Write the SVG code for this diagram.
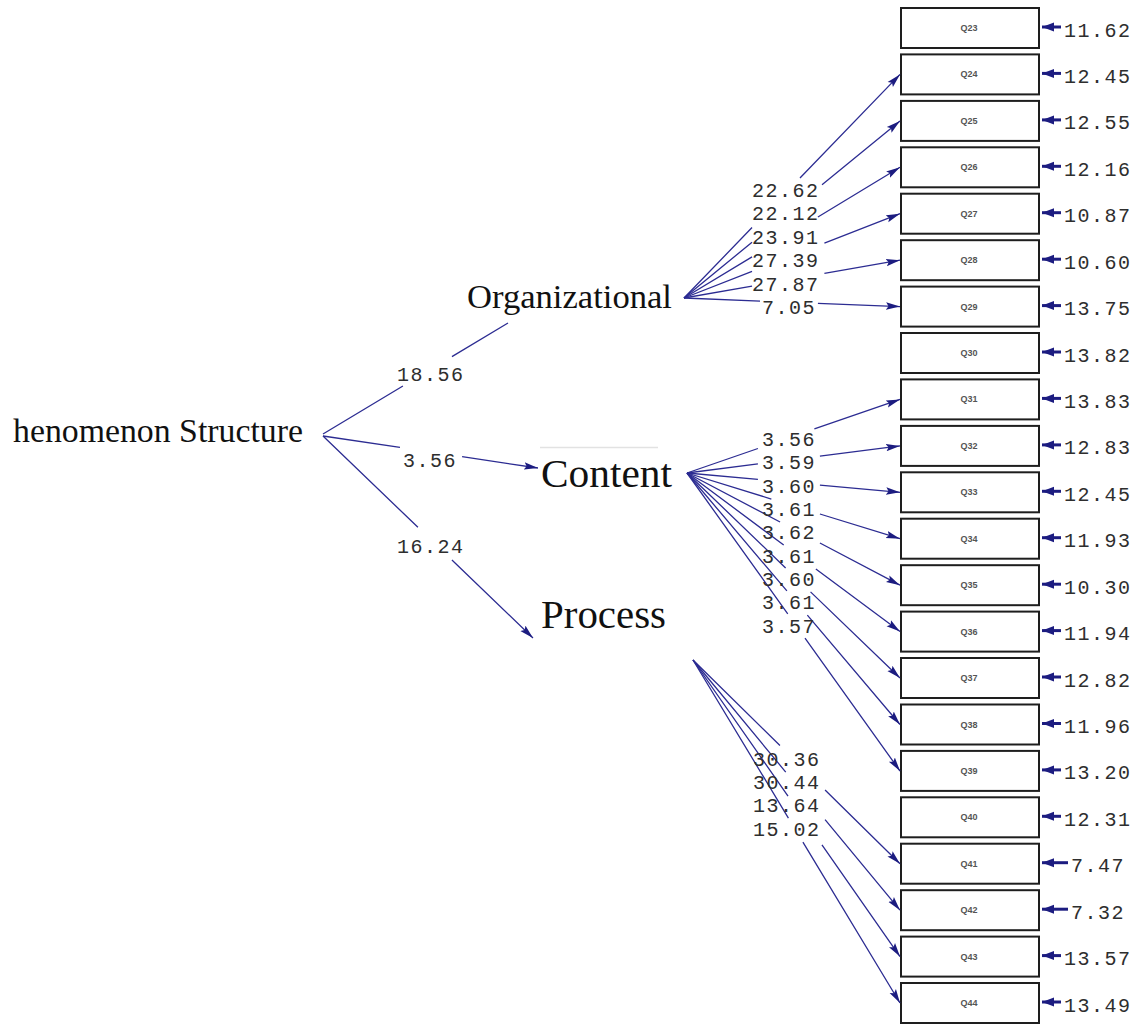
<svg xmlns="http://www.w3.org/2000/svg" width="1137" height="1025" viewBox="0 0 1137 1025">
  <style>
    .latent { font-family: "Liberation Serif", "Times New Roman", serif; fill: #111; }
    .box { fill: #fff; stroke: #1e1e1e; stroke-width: 2; }
    .boxlbl { font-family: "Liberation Sans", Arial, sans-serif; font-size: 9px; font-weight: bold; fill: #555; text-anchor: middle; }
    .path { fill: none; stroke: #2c2c92; stroke-width: 1.3; marker-end: url(#ah); }
    .plain { fill: none; stroke: #2c2c92; stroke-width: 1.3; }
    .err { fill: none; stroke: #1c1c80; stroke-width: 3; marker-end: url(#eh); }
    .num { font-family: "Liberation Mono", "Courier New", monospace; font-size: 20px; letter-spacing: 1.5px; fill: #2e2e2e; }
  </style>
  <defs>
    <marker id="ah" markerUnits="userSpaceOnUse" markerWidth="15" markerHeight="9" refX="14" refY="4.5" orient="auto">
      <path d="M0,0.8 L14,4.5 L0,8.2 L2.5,4.5 z" fill="#1c1c80"/>
    </marker>
    <marker id="eh" markerUnits="userSpaceOnUse" markerWidth="13" markerHeight="10" refX="12" refY="5" orient="auto">
      <path d="M0,0.5 L12,5 L0,9.5 z" fill="#1c1c80"/>
    </marker>
  </defs>

  <rect width="1137" height="1025" fill="#fff"/>

  <!-- latent variables -->
  <g id="structure">
    <text class="latent" x="13" y="442" font-size="34" textLength="290" lengthAdjust="spacingAndGlyphs">henomenon Structure</text>
  </g>
  <g id="organizational">
    <text class="latent" x="467" y="308" font-size="33" textLength="205" lengthAdjust="spacingAndGlyphs">Organizational</text>
  </g>
  <g id="content">
    <line x1="540" y1="447.5" x2="658" y2="447.5" stroke="#e2e2e2" stroke-width="1.5"/>
    <text class="latent" x="541" y="487" font-size="40" textLength="131" lengthAdjust="spacingAndGlyphs">Content</text>
  </g>
  <g id="process">
    <text class="latent" x="541" y="628" font-size="40" textLength="125" lengthAdjust="spacingAndGlyphs">Process</text>
  </g>

  <!-- observed indicators -->
  <g id="q23"><rect class="box" x="901" y="8" width="138" height="40"/><text class="boxlbl" x="969" y="31">Q23</text></g>
  <g id="q24"><rect class="box" x="901" y="54.4" width="138" height="40"/><text class="boxlbl" x="969" y="77.4">Q24</text></g>
  <g id="q25"><rect class="box" x="901" y="100.9" width="138" height="40"/><text class="boxlbl" x="969" y="123.9">Q25</text></g>
  <g id="q26"><rect class="box" x="901" y="147.3" width="138" height="40"/><text class="boxlbl" x="969" y="170.3">Q26</text></g>
  <g id="q27"><rect class="box" x="901" y="193.7" width="138" height="40"/><text class="boxlbl" x="969" y="216.7">Q27</text></g>
  <g id="q28"><rect class="box" x="901" y="240.2" width="138" height="40"/><text class="boxlbl" x="969" y="263.2">Q28</text></g>
  <g id="q29"><rect class="box" x="901" y="286.6" width="138" height="40"/><text class="boxlbl" x="969" y="309.6">Q29</text></g>
  <g id="q30"><rect class="box" x="901" y="333" width="138" height="40"/><text class="boxlbl" x="969" y="356">Q30</text></g>
  <g id="q31"><rect class="box" x="901" y="379.4" width="138" height="40"/><text class="boxlbl" x="969" y="402.4">Q31</text></g>
  <g id="q32"><rect class="box" x="901" y="425.9" width="138" height="40"/><text class="boxlbl" x="969" y="448.9">Q32</text></g>
  <g id="q33"><rect class="box" x="901" y="472.3" width="138" height="40"/><text class="boxlbl" x="969" y="495.3">Q33</text></g>
  <g id="q34"><rect class="box" x="901" y="518.7" width="138" height="40"/><text class="boxlbl" x="969" y="541.7">Q34</text></g>
  <g id="q35"><rect class="box" x="901" y="565.2" width="138" height="40"/><text class="boxlbl" x="969" y="588.2">Q35</text></g>
  <g id="q36"><rect class="box" x="901" y="611.6" width="138" height="40"/><text class="boxlbl" x="969" y="634.6">Q36</text></g>
  <g id="q37"><rect class="box" x="901" y="658" width="138" height="40"/><text class="boxlbl" x="969" y="681">Q37</text></g>
  <g id="q38"><rect class="box" x="901" y="704.5" width="138" height="40"/><text class="boxlbl" x="969" y="727.5">Q38</text></g>
  <g id="q39"><rect class="box" x="901" y="750.9" width="138" height="40"/><text class="boxlbl" x="969" y="773.9">Q39</text></g>
  <g id="q40"><rect class="box" x="901" y="797.3" width="138" height="40"/><text class="boxlbl" x="969" y="820.3">Q40</text></g>
  <g id="q41"><rect class="box" x="901" y="843.7" width="138" height="40"/><text class="boxlbl" x="969" y="866.7">Q41</text></g>
  <g id="q42"><rect class="box" x="901" y="890.2" width="138" height="40"/><text class="boxlbl" x="969" y="913.2">Q42</text></g>
  <g id="q43"><rect class="box" x="901" y="936.6" width="138" height="40"/><text class="boxlbl" x="969" y="959.6">Q43</text></g>
  <g id="q44"><rect class="box" x="901" y="983" width="138" height="40"/><text class="boxlbl" x="969" y="1006">Q44</text></g>

  <!-- connectors: each path is broken where its coefficient is printed -->
  <g id="connectors">
    <!-- second-order paths -->
    <path class="plain" d="M323,434 L508,323" pathLength="100" stroke-dasharray="43.2 26.5 100"/>
    <path class="path" d="M323,436 L538,468" pathLength="100" stroke-dasharray="35.8 28.9 100"/>
    <path class="path" d="M323,436 L533,638" pathLength="100" stroke-dasharray="45.2 16.2 100"/>

    <!-- Organizational loadings -->
    <path class="path" d="M684,298 L900,74.4" pathLength="100" stroke-dasharray="31.5 22.2 100"/>
    <path class="path" d="M684,298 L900,120.9" pathLength="100" stroke-dasharray="31.5 32.4 100"/>
    <path class="path" d="M684,298 L900,167.3" pathLength="100" stroke-dasharray="31.5 30.5 100"/>
    <path class="path" d="M684,298 L900,213.7" pathLength="100" stroke-dasharray="31.5 33.5 100"/>
    <path class="path" d="M684,298 L900,260.2" pathLength="100" stroke-dasharray="31.5 33.5 100"/>
    <path class="path" d="M684,298 L900,306.6" pathLength="100" stroke-dasharray="35.2 26.8 100"/>

    <!-- Content loadings -->
    <path class="path" d="M687,473 L900,399.4" pathLength="100" stroke-dasharray="33.3 26.5 100"/>
    <path class="path" d="M687,473 L900,445.9" pathLength="100" stroke-dasharray="33.3 29.1 100"/>
    <path class="path" d="M687,473 L900,492.3" pathLength="100" stroke-dasharray="33.3 29.1 100"/>
    <path class="path" d="M687,473 L900,538.7" pathLength="100" stroke-dasharray="39.6 22.8 100"/>
    <path class="path" d="M687,473 L900,585.2" pathLength="100" stroke-dasharray="43.7 18.7 100"/>
    <path class="path" d="M687,473 L900,631.6" pathLength="100" stroke-dasharray="45.4 15.1 100"/>
    <path class="path" d="M687,473 L900,678" pathLength="100" stroke-dasharray="46.3 11.7 100"/>
    <path class="path" d="M687,473 L900,724.5" pathLength="100" stroke-dasharray="46.9 9.6 100"/>
    <path class="path" d="M687,473 L900,771" pathLength="100" stroke-dasharray="47.3 8.1 100"/>

    <!-- Process loadings -->
    <path class="path" d="M693,660 L900,863.7" pathLength="100" stroke-dasharray="42 21.8 100"/>
    <path class="path" d="M693,660 L900,910.2" pathLength="100" stroke-dasharray="44.8 19 100"/>
    <path class="path" d="M693,660 L900,956.6" pathLength="100" stroke-dasharray="45.9 16.4 100"/>
    <path class="path" d="M693,660 L900,1003" pathLength="100" stroke-dasharray="46.1 7 100"/>

    <!-- error terms -->
    <path class="err" d="M1061,27 H1042"/>
    <path class="err" d="M1061,73.4 H1042"/>
    <path class="err" d="M1061,119.9 H1042"/>
    <path class="err" d="M1061,166.3 H1042"/>
    <path class="err" d="M1061,212.7 H1042"/>
    <path class="err" d="M1061,259.2 H1042"/>
    <path class="err" d="M1061,305.6 H1042"/>
    <path class="err" d="M1061,352 H1042"/>
    <path class="err" d="M1061,398.4 H1042"/>
    <path class="err" d="M1061,444.9 H1042"/>
    <path class="err" d="M1061,491.3 H1042"/>
    <path class="err" d="M1061,537.7 H1042"/>
    <path class="err" d="M1061,584.2 H1042"/>
    <path class="err" d="M1061,630.6 H1042"/>
    <path class="err" d="M1061,677 H1042"/>
    <path class="err" d="M1061,723.5 H1042"/>
    <path class="err" d="M1061,769.9 H1042"/>
    <path class="err" d="M1061,816.3 H1042"/>
    <path class="err" d="M1068,862.7 H1042"/>
    <path class="err" d="M1068,909.2 H1042"/>
    <path class="err" d="M1061,955.6 H1042"/>
    <path class="err" d="M1061,1002 H1042"/>
  </g>

  <!-- coefficients -->
  <g id="coefficients" class="num">
    <text x="397" y="381">18.56</text>
    <text x="403" y="467">3.56</text>
    <text x="397" y="553">16.24</text>

    <text x="752" y="197">22.62</text>
    <text x="752" y="220">22.12</text>
    <text x="752" y="244">23.91</text>
    <text x="752" y="267">27.39</text>
    <text x="752" y="291">27.87</text>
    <text x="762" y="314">7.05</text>

    <text x="762" y="446">3.56</text>
    <text x="762" y="469.3">3.59</text>
    <text x="762" y="492.6">3.60</text>
    <text x="762" y="516">3.61</text>
    <text x="762" y="539.3">3.62</text>
    <text x="762" y="562.6">3.61</text>
    <text x="762" y="586">3.60</text>
    <text x="762" y="609.3">3.61</text>
    <text x="762" y="632.6">3.57</text>

    <text x="753" y="766">30.36</text>
    <text x="753" y="789">30.44</text>
    <text x="753" y="812">13.64</text>
    <text x="753" y="836">15.02</text>
  </g>

  <!-- error variances -->
  <g id="error-values" class="num">
    <text x="1064" y="36.5">11.62</text>
    <text x="1064" y="82.9">12.45</text>
    <text x="1064" y="129.4">12.55</text>
    <text x="1064" y="175.8">12.16</text>
    <text x="1064" y="222.2">10.87</text>
    <text x="1064" y="268.7">10.60</text>
    <text x="1064" y="315.1">13.75</text>
    <text x="1064" y="361.5">13.82</text>
    <text x="1064" y="407.9">13.83</text>
    <text x="1064" y="454.4">12.83</text>
    <text x="1064" y="500.8">12.45</text>
    <text x="1064" y="547.2">11.93</text>
    <text x="1064" y="593.7">10.30</text>
    <text x="1064" y="640.1">11.94</text>
    <text x="1064" y="686.5">12.82</text>
    <text x="1064" y="733">11.96</text>
    <text x="1064" y="779.4">13.20</text>
    <text x="1064" y="825.8">12.31</text>
    <text x="1071" y="872.2">7.47</text>
    <text x="1071" y="918.7">7.32</text>
    <text x="1064" y="965.1">13.57</text>
    <text x="1064" y="1011.5">13.49</text>
  </g>
</svg>
